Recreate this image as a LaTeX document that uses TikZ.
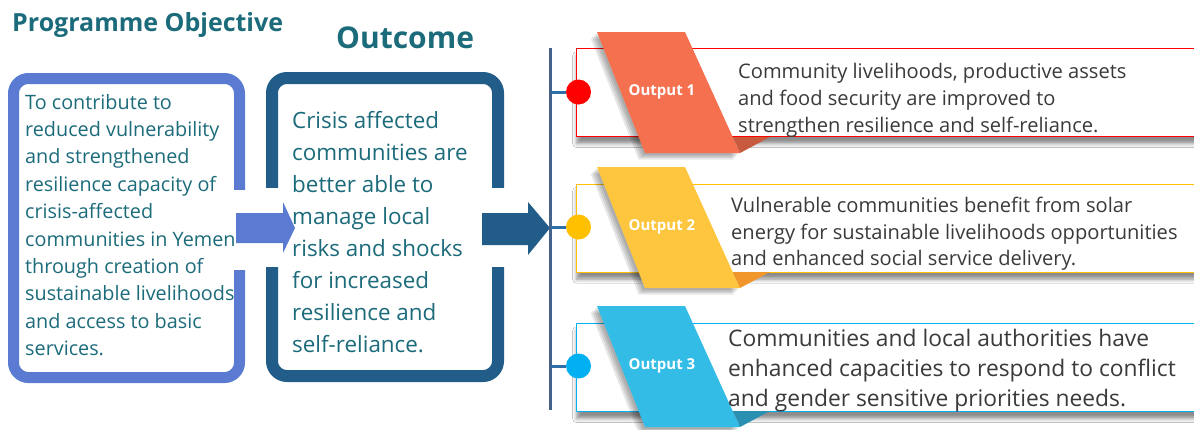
\documentclass[tikz,border=0pt]{standalone}
\usepackage{fontspec}
\setmainfont{Open Sans}
\usetikzlibrary{shadows,shadows.blur}
\definecolor{teal}{HTML}{1C6B7B}
\definecolor{objblue}{HTML}{5A7BD1}
\definecolor{outblue}{HTML}{215D88}
\definecolor{vline}{HTML}{44628A}
\definecolor{tick}{HTML}{2E6FA8}
\definecolor{bodytxt}{HTML}{3A3A3A}
\definecolor{cred}{HTML}{FF0000}
\definecolor{cgold}{HTML}{FFC000}
\definecolor{ccyan}{HTML}{00B0F0}
\definecolor{pcoral}{HTML}{F4704F}
\definecolor{fcoral}{HTML}{C85A40}
\definecolor{pyellow}{HTML}{FDC63E}
\definecolor{fyellow}{HTML}{F0962A}
\definecolor{pblue}{HTML}{33BDE6}
\definecolor{fblue}{HTML}{2A8FB0}
\begin{document}
\begin{tikzpicture}[x=1pt,y=-1pt,
  title/.style={text=teal,font=\bfseries\fontsize{#1}{#1}\selectfont,inner sep=0pt,anchor=base west},
  frame/.style={draw=#1,line width=11pt,rounded corners=15pt,fill=white,inner sep=0pt},
  bodytext/.style={inner sep=0pt,anchor=west,align=left},
  outbox/.style={draw=#1,line width=1.3pt,fill=white,minimum width=640pt,minimum height=88pt,inner sep=0pt,anchor=north west,
     blur shadow={shadow xshift=0pt,shadow yshift=-7pt,shadow blur radius=4pt,shadow opacity=45}},
  dot/.style={circle,fill=#1,minimum size=25pt,inner sep=0pt},
  pshadow/.style={fill=black,opacity=0.09},
  outlabel/.style={text=white,font=\bfseries\fontsize{15}{16}\selectfont,inner sep=0pt}
]
\clip (0,0) rectangle (1194,429);
\fill[white] (0,0) rectangle (1194,429);

% titles
\node[title=25] (tobj) at (12,31) {Programme Objective};
\node[title=30] (tout) at (336,48) {Outcome};

% objective frame
\node[frame=objblue,minimum width=226pt,minimum height=299pt] (obj) at (126.5,228) {};
\fill[white] (231,190) rectangle (247,270);
% outcome frame
\node[frame=outblue,line width=12pt,minimum width=226pt,minimum height=298pt] (out) at (385,227) {};
\fill[white] (262,188) rectangle (282,267);
\fill[white] (489,188) rectangle (509,267);

% arrows
\coordinate (a1tip) at (295,228);
\coordinate (a2tip) at (550,228);
\fill[objblue] (236,213) -- (283,213) -- (283,202) -- (a1tip) -- (283,253) -- (283,243) -- (236,243) -- cycle;
\fill[outblue] (482,213) -- (528,213) -- (528,202) -- (a2tip) -- (528,255) -- (528,245) -- (482,245) -- cycle;

% objective text
\node[bodytext,text=teal,font=\fontsize{19.8}{27.4}\selectfont] (objtext) at (25,225)
{To contribute to\\reduced vulnerability\\and strengthened\\resilience capacity of\\crisis-affected\\communities in Yemen\\through creation of\\sustainable livelihoods\\and access to basic\\services.};
% outcome text
\node[bodytext,text=teal,font=\fontsize{22.4}{32}\selectfont] (outtext) at (292,232)
{Crisis affected\\communities are\\better able to\\manage local\\risks and shocks\\for increased\\resilience and\\self-reliance.};

% vertical line
\coordinate (vtop) at (550.5,48);
\coordinate (vbot) at (550.5,410);
\draw[vline,line width=3pt] (vtop) -- (vbot);

% outputs
\foreach \i/\dy/\bc/\pc/\fc/\lab in {1/0/cred/pcoral/fcoral/Output 1, 2/135/cgold/pyellow/fyellow/Output 2, 3/274/ccyan/pblue/fblue/Output 3}{
  \node[outbox=\bc] (box\i) at (576,48+\dy+0.5*\i-0.5) {};
  \coordinate (tk\i) at (550.5,92+\dy);
  \node[dot=\bc] (dot\i) at (578.5,92+\dy) {};
  \draw[tick,line width=3pt] (tk\i) -- (dot\i);
  \foreach \s in {2,3.5,5,6.5}{
    \fill[pshadow] (597-\s,32+\dy+\s) -- (685-\s,32+\dy+\s) -- (740-\s,153+\dy+\s) -- (645-\s,153+\dy+\s) -- cycle;
  }
  \fill[\pc] (597,32+\dy) -- (685,32+\dy) -- (740,153+\dy) -- (645,153+\dy) -- cycle;
  \fill[\fc] (733,137+\dy) -- (770,137+\dy) -- (740,153+\dy) -- cycle;
  \node[outlabel] (lab\i) at (662,92+\dy) {\lab};
}

\node[bodytext,text=bodytxt,font=\fontsize{20.1}{27}\selectfont] (t1) at (738,100)
{Community livelihoods, productive assets\\and food security are improved to\\strengthen resilience and self-reliance.};
\node[bodytext,text=bodytxt,font=\fontsize{20.1}{26.5}\selectfont] (t2) at (731,234)
{Vulnerable communities benefit from solar\\energy for sustainable livelihoods opportunities\\and enhanced social service delivery.};
\node[bodytext,text=bodytxt,font=\fontsize{22.8}{30}\selectfont] (t3) at (728,371)
{Communities and local authorities have\\enhanced capacities to respond to conflict\\and gender sensitive priorities needs.};
\end{tikzpicture}
\end{document}
